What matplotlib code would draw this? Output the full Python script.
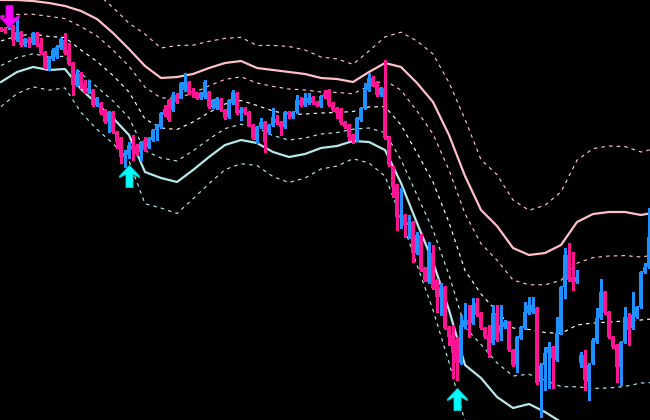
import matplotlib
matplotlib.use("Agg")
import matplotlib.pyplot as plt
import numpy as np
from matplotlib.path import Path

# ---- candle data (price points) ----
opens = [392,391,392,393,380,388,375,381,377,387,377,368,352,361,363,372,380,370,357,335,
         347,337,328,330,315,317,310,298,308,288,282,263,265,275,274,268,280,273,280,290,
         293,311,320,310,325,323,330,338,329,327,322,323,328,313,312,321,310,303,317,327,
         307,312,308,295,280,293,298,287,295,301,298,293,308,303,308,320,315,317,323,318,
         314,327,330,317,312,311,298,295,285,280,300,312,330,342,338,325,332,283,253,235,
         202,205,195,198,167,185,152,138,167,140,123,133,93,85,80,57,93,100,97,117,
         107,92,85,77,107,87,93,98,70,55,82,92,107,108,112,38,55,67,73,60,
         87,133,165,143,138,57,65,38,57,78,102,128,108,83,75,53,78,103,92,103,
         113,148,153]
closes = [390,389,398,380,388,375,381,377,387,375,367,353,363,370,373,381,367,356,335,346,
          335,328,332,315,322,307,298,308,288,278,263,267,275,270,268,278,270,282,290,295,
          307,305,300,325,318,337,338,327,327,322,327,338,313,320,322,310,302,320,328,307,
          310,307,295,282,293,298,278,295,303,297,293,308,305,308,320,315,322,322,317,315,
          324,323,315,310,307,297,293,283,280,302,312,330,342,335,325,332,282,255,233,203,
          205,195,198,167,185,150,140,168,132,123,133,92,83,67,57,95,100,95,115,105,
          92,83,68,107,80,95,98,70,55,83,93,108,115,115,37,55,67,73,62,87,
          133,165,140,138,143,65,40,55,80,102,128,107,83,73,53,78,103,90,105,113,
          148,153,183]
highs = [393,393,402,395,403,389,382,383,388,388,382,369,364,372,375,382,387,377,358,350,
         348,340,340,331,323,318,311,309,309,289,283,270,278,285,276,279,283,283,291,296,
         308,315,321,328,327,338,347,339,332,328,328,340,329,321,323,322,311,321,330,328,
         313,313,309,296,294,302,299,296,312,305,299,309,309,309,325,323,327,327,324,319,
         325,330,331,318,313,312,299,296,286,303,313,337,347,344,339,333,360,284,254,236,
         232,206,205,199,188,186,153,178,175,141,137,134,94,95,83,105,117,115,122,122,
         108,93,95,115,115,115,100,99,71,84,94,118,123,123,113,57,73,78,74,103,
         134,172,177,168,150,68,70,57,82,112,141,129,109,84,76,79,113,107,128,114,
         149,157,212]
lows = [389,387,391,375,379,374,374,373,376,374,366,352,350,360,362,371,366,355,325,334,
        332,327,327,314,314,306,297,288,287,272,257,253,262,260,265,260,269,272,279,280,
        292,304,299,309,317,322,329,326,323,321,321,322,312,312,311,309,301,302,316,306,
        300,306,294,281,277,292,268,286,294,296,285,292,302,302,307,314,314,316,316,314,
        313,322,314,309,302,296,292,280,277,279,299,311,329,334,324,324,281,254,223,190,
        192,183,182,158,166,149,139,137,131,108,105,91,75,42,40,56,92,83,96,104,
        91,82,63,76,79,80,92,69,54,48,81,91,106,107,36,3,30,32,32,59,
        86,122,139,130,137,53,30,20,56,77,101,106,82,72,38,35,77,75,91,102,
        112,147,152]

# ---- envelope bands, one value every 4 bars ----
band_step = 4
upper_band = [420,420,419,417,414,409,401,387,371,354,342,343,346,352,357,359,352,350,348,346,
              342,341,338,348,357,353,337,318,285,244,210,194,172,165,167,175,198,206,208,208,
              205,208]
lower_band = [338,348,353,350,351,331,316,302,285,248,242,238,250,263,275,280,277,268,263,266,
              272,274,279,278,270,237,197,158,110,55,42,23,12,16,8,-2,-8,-12,-12,-10,
              -5,-5]
inner_mult = 0.6
outer_mult = 1.6

# ---- signal arrows ----
sell_idx = [2]
sell_price = [404]
buy_idx = [32, 114]
buy_price = [244, 21]

UP = "#1E90FF"
DOWN = "#FF1493"
PINK = "#FFC0CB"
CYAN = "#B4E8EA"

fig = plt.figure(figsize=(6.5, 4.2), dpi=100, facecolor="black")
ax = fig.add_axes([0, 0, 1, 1])
ax.set_facecolor("black")
ax.set_xlim(-0.25, 162.25)
ax.set_ylim(0, 420)
ax.axis("off")

# bands
up = np.array(upper_band, float)
lo = np.array(lower_band, float)
bx = np.arange(len(up)) * band_step
mid = (up + lo) / 2
half = (lo - up) / 2  # negative (upper > lower in price)
dash = (0, (3.0, 3.5))
lw_d = 0.85
ax.plot(bx, mid - outer_mult * half, color=PINK, lw=lw_d, ls=dash, zorder=1)
ax.plot(bx, mid - inner_mult * half, color=PINK, lw=lw_d, ls=dash, zorder=1)
ax.plot(bx, mid, color="white", lw=lw_d, ls=dash, zorder=1)
ax.plot(bx, mid + inner_mult * half, color=CYAN, lw=lw_d, ls=dash, zorder=1)
ax.plot(bx, mid + outer_mult * half, color=CYAN, lw=lw_d, ls=dash, zorder=1)
ax.plot(bx, up, color=PINK, lw=1.6, zorder=2)
ax.plot(bx, lo, color=CYAN, lw=1.6, zorder=2)

# candles
o = np.array(opens, float); c = np.array(closes, float)
h = np.array(highs, float); l = np.array(lows, float)
idx = np.arange(len(o))
cols = np.where(c >= o, UP, DOWN)
ax.vlines(idx, l, h, colors=cols, lw=0.9, zorder=3, antialiased=False)
body_h = np.maximum(np.abs(c - o), 1.5)
ax.bar(idx, body_h, bottom=np.minimum(o, c), width=0.8, color=cols, linewidth=0,
       zorder=4, antialiased=False)

# arrow markers
verts = [(0, 0.5), (0.45, 0.02), (0.45, -0.05), (0.16, 0.1), (0.16, -0.5),
         (-0.16, -0.5), (-0.16, 0.1), (-0.45, -0.05), (-0.45, 0.02), (0, 0.5)]
up_arrow = Path(verts, [Path.MOVETO] + [Path.LINETO] * 8 + [Path.CLOSEPOLY])
down_arrow = Path([(x, -y) for x, y in verts], [Path.MOVETO] + [Path.LINETO] * 8 + [Path.CLOSEPOLY])
ax.plot(buy_idx, buy_price, ls="none", marker=up_arrow, markersize=16,
        color="#00FFFF", markeredgecolor="#00C8C8", markeredgewidth=0.6, zorder=5)
ax.plot(sell_idx, sell_price, ls="none", marker=down_arrow, markersize=16,
        color="#FF00FF", markeredgecolor="#C800C8", markeredgewidth=0.6, zorder=5)

fig.savefig("out.png", dpi=100, facecolor="black")
